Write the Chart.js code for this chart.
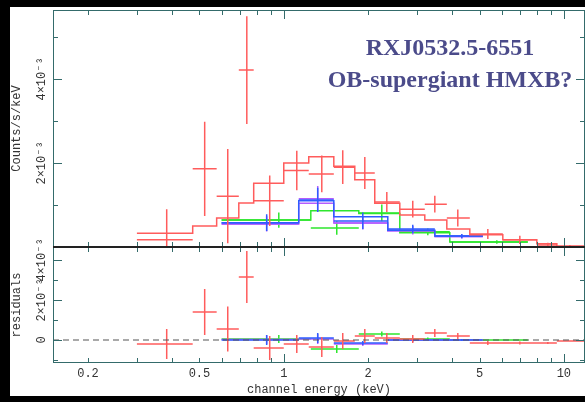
<!DOCTYPE html>
<html>
<head>
<meta charset="utf-8">
<script src="https://cdn.jsdelivr.net/npm/chart.js@4.4.0/dist/chart.umd.min.js"></script>
<style>
  html, body { margin: 0; padding: 0; background: #000; }
  #page { position: relative; width: 585px; height: 402px; overflow: hidden; background: #000; }
  #sheet { position: absolute; left: 10px; top: 7px; width: 575px; height: 389px; background: #fff; }
  canvas { position: absolute; left: 0; }
  #spec { top: 0; }
  #resid { top: 200px; }
  #label { position: absolute; left: 300px; top: 31px; width: 300px; text-align: center;
           font: bold 24px/32px "Liberation Serif", "Times New Roman", serif; color: #4b4b8a; }
</style>
</head>
<body>
<div id="page">
  <div id="sheet"></div>
  <canvas id="spec" width="585" height="260"></canvas>
  <canvas id="resid" width="585" height="202"></canvas>
  <div id="label">RXJ0532.5-6551<br>OB-supergiant HMXB?</div>
</div>
<script>
// energy axis (keV)
var xMin = 0.15, xMax = 11.9;
var xLabelTicks = [0.2, 0.5, 1, 2, 5, 10];
var xMajorTicks = [1, 10];
var xMinorTicks = [0.2, 0.3, 0.4, 0.5, 0.6, 0.7, 0.8, 0.9, 2, 3, 4, 5, 6, 7, 8, 9];

// counts/s/keV and residuals, both in units of 1e-3
var countMax = 5.64;
var countLabelTicks = [2, 4];
var countMinorTicks = [1, 3, 5];
var residMin = -1.15, residMax = 4.65;
var residLabelTicks = [0, 2, 4];
var residMinorTicks = [-1, 1, 3];

// red spectrum
var redEdges = [0.299, 0.473, 0.576, 0.691, 0.781, 1.0, 1.228, 1.509, 1.793, 2.113, 2.596, 3.188, 3.821, 4.616, 6.055, 8.009, 9.441, 11.9];
var redCenters = [0.382, 0.522, 0.631, 0.738, 0.891, 1.113, 1.367, 1.624, 1.947, 2.333, 2.888, 3.462, 4.182, 5.353, 6.964, 8.768, 10.51];
var redCounts = [0.17, 1.86, 1.21, 4.21, 1.10, 1.82, 1.74, 1.90, 1.76, 1.07, 0.90, 1.02, 0.69, 0.31, 0.17, 0.05, 0.02];
var redErrors = [0.73, 1.12, 1.12, 1.28, 0.60, 0.47, 0.44, 0.40, 0.38, 0.24, 0.20, 0.20, 0.20, 0.12, 0.10, 0.05, 0.03];
var redModel = [0.33, 0.50, 0.69, 1.05, 1.52, 2.00, 2.15, 1.92, 1.60, 1.04, 0.76, 0.64, 0.43, 0.29, 0.17, 0.08, 0.02];
var redResid = [-0.20, 1.40, 0.55, 3.15, -0.40, -0.20, -0.35, -0.05, 0.20, 0.10, 0.05, 0.35, 0.20, -0.15, -0.15, -0.15, -0.05];
var redResidErr = [0.75, 1.15, 1.12, 1.30, 0.60, 0.45, 0.50, 0.40, 0.35, 0.25, 0.20, 0.20, 0.15, 0.10, 0.08, 0.05, 0.03];

// blue spectrum
var blueEdges = [0.600, 1.131, 1.509, 2.352, 3.462, 5.136];
var blueCenters = [0.869, 1.322, 1.915, 2.888, 4.322];
var blueCounts = [0.58, 1.12, 0.62, 0.43, 0.26];
var blueErrors = [0.20, 0.29, 0.20, 0.10, 0.05];
var blueModel = [0.58, 1.10, 0.72, 0.40, 0.26];
var blueResid = [0.00, 0.10, -0.15, 0.00, 0.00];
var blueResidErr = [0.25, 0.25, 0.10, 0.08, 0.05];

// purple spectrum
var purpleEdges = [0.600, 1.131, 1.509, 2.352, 3.462, 5.136];
var purpleCenters = [0.869, 1.322, 1.915, 2.888, 4.322];
var purpleCounts = [0.55, 1.15, 0.57, 0.40, 0.25];
var purpleErrors = [0.18, 0.30, 0.15, 0.10, 0.05];
var purpleModel = [0.55, 1.04, 0.57, 0.38, 0.25];
var purpleResid = [0.02, 0.05, -0.20, 0.00, 0.00];
var purpleResidErr = [0.22, 0.25, 0.10, 0.08, 0.05];

// green spectrum
var greenEdges = [0.600, 1.249, 1.853, 2.596, 3.916, 7.436];
var greenCenters = [0.960, 1.546, 2.239, 3.268, 5.764];
var greenCounts = [0.64, 0.45, 0.81, 0.36, 0.12];
var greenErrors = [0.18, 0.16, 0.20, 0.08, 0.04];
var greenModel = [0.64, 0.86, 0.80, 0.34, 0.12];
var greenResid = [0.05, -0.45, 0.30, 0.05, 0.00];
var greenResidErr = [0.20, 0.20, 0.12, 0.08, 0.04];

var RED = '#ff5c5c', BLUE = '#2f5cff', PURPLE = '#b45cff', GREEN = '#2ee62e';
var FRAME = '#346b6b', TEXT = '#333333';
var MONO = '"Liberation Mono", "DejaVu Sans Mono", monospace';

// histogram of model values over the bins
function stepLine(edges, values) {
  var pts = [];
  for (var i = 0; i < values.length; i++) {
    pts.push({x: edges[i], y: values[i]});
    pts.push({x: edges[i + 1], y: values[i]});
  }
  return pts;
}

// one cross per bin: energy bar + error bar, broken by null points
function crosses(edges, centers, values, errors) {
  var pts = [];
  for (var i = 0; i < values.length; i++) {
    pts.push({x: edges[i], y: values[i]}, {x: edges[i + 1], y: values[i]}, {x: null, y: null});
    pts.push({x: centers[i], y: values[i] - errors[i]}, {x: centers[i], y: values[i] + errors[i]}, {x: null, y: null});
  }
  return pts;
}

function lineSet(data, color, extra) {
  var ds = {data: data, showLine: true, borderColor: color, borderWidth: 1.5,
            pointRadius: 0, pointHoverRadius: 0, spanGaps: false, tension: 0};
  for (var k in extra) ds[k] = extra[k];
  return ds;
}

// frame with inward ticks, like the old plotting packages
var panelFrame = {
  id: 'panelFrame',
  afterDatasetsDraw: function(chart, args, opts) {
    var ctx = chart.ctx, a = chart.chartArea;
    var xs = chart.scales.x, ys = chart.scales.y;
    function seg(x1, y1, x2, y2) { ctx.beginPath(); ctx.moveTo(x1, y1); ctx.lineTo(x2, y2); ctx.stroke(); }
    ctx.save();
    ctx.strokeStyle = FRAME;
    ctx.lineWidth = 1;
    ctx.strokeRect(a.left + 0.5, a.top + 0.5, a.right - a.left - 1, a.bottom - a.top - 1);
    function xt(v, len) {
      var p = Math.round(xs.getPixelForValue(v)) + 0.5;
      seg(p, a.bottom, p, a.bottom - len);
      seg(p, a.top, p, a.top + len);
    }
    function yt(v, len) {
      var p = Math.round(ys.getPixelForValue(v)) + 0.5;
      seg(a.left, p, a.left + len, p);
      seg(a.right, p, a.right - len, p);
    }
    xMinorTicks.forEach(function(v) { xt(v, 5); });
    xMajorTicks.forEach(function(v) { xt(v, 9); });
    opts.yMajor.forEach(function(v) { yt(v, 9); });
    opts.yMinor.forEach(function(v) { yt(v, 5); });
    ctx.strokeStyle = '#222';
    ctx.lineWidth = 2;
    var yd = opts.darkEdge === 'bottom' ? a.bottom : a.top;
    seg(a.left, yd, a.right, yd);
    ctx.restore();
  }
};

function yTickLabel(v) { return v === 0 ? '0' : v + '\u00d710\u207b\u00b3'; }

var specChart = new Chart(document.getElementById('spec'), {
  type: 'scatter',
  data: {
    datasets: [
      lineSet(stepLine(redEdges, redModel), RED),
      lineSet(crosses(redEdges, redCenters, redCounts, redErrors), RED),
      lineSet(stepLine(blueEdges, blueModel), BLUE),
      lineSet(crosses(blueEdges, blueCenters, blueCounts, blueErrors), BLUE),
      lineSet(stepLine(purpleEdges, purpleModel), PURPLE),
      lineSet(crosses(purpleEdges, purpleCenters, purpleCounts, purpleErrors), PURPLE),
      lineSet(stepLine(greenEdges, greenModel), GREEN),
      lineSet(crosses(greenEdges, greenCenters, greenCounts, greenErrors), GREEN)
    ]
  },
  options: {
    responsive: false,
    animation: false,
    layout: {padding: {left: 0, right: 0, top: 10, bottom: 13}},
    plugins: {
      legend: {display: false},
      tooltip: {enabled: false},
      panelFrame: {yMajor: countLabelTicks, yMinor: countMinorTicks, darkEdge: 'bottom'}
    },
    scales: {
      x: {type: 'logarithmic', min: xMin, max: xMax, display: false},
      y: {
        type: 'linear', min: 0, max: countMax, position: 'left',
        afterBuildTicks: function(s) { s.ticks = countLabelTicks.map(function(v) { return {value: v}; }); },
        afterFit: function(s) { s.width = 53; },
        grid: {display: false, drawTicks: false},
        border: {display: false},
        ticks: {minRotation: 90, maxRotation: 90, crossAlign: 'center', padding: -10,
                color: TEXT, font: {family: MONO, size: 12}, callback: yTickLabel},
        title: {display: true, text: 'Counts/s/keV', color: TEXT,
                font: {family: MONO, size: 12}, padding: {top: 10, bottom: 0}}
      }
    }
  },
  plugins: [panelFrame]
});

var residChart = new Chart(document.getElementById('resid'), {
  type: 'scatter',
  data: {
    datasets: [
      lineSet([{x: xMin, y: 0}, {x: xMax, y: 0}], '#555', {borderWidth: 1.2, borderDash: [6, 4]}),
      lineSet(crosses(redEdges, redCenters, redResid, redResidErr), RED),
      lineSet(crosses(blueEdges, blueCenters, blueResid, blueResidErr), BLUE),
      lineSet(crosses(purpleEdges, purpleCenters, purpleResid, purpleResidErr), PURPLE),
      lineSet(crosses(greenEdges, greenCenters, greenResid, greenResidErr), GREEN)
    ]
  },
  options: {
    responsive: false,
    animation: false,
    layout: {padding: {left: 0, right: 0, top: 47, bottom: 0}},
    plugins: {
      legend: {display: false},
      tooltip: {enabled: false},
      panelFrame: {yMajor: residLabelTicks, yMinor: residMinorTicks, darkEdge: 'top'}
    },
    scales: {
      x: {
        type: 'logarithmic', min: xMin, max: xMax, position: 'bottom',
        afterBuildTicks: function(s) { s.ticks = xLabelTicks.map(function(v) { return {value: v}; }); },
        afterFit: function(s) { s.height = 39; },
        grid: {display: false, drawTicks: false},
        border: {display: false},
        ticks: {autoSkip: false, maxRotation: 0, padding: 4, color: TEXT,
                font: {family: MONO, size: 12}, callback: function(v) { return String(v); }},
        title: {display: true, text: 'channel energy (keV)', color: TEXT,
                font: {family: MONO, size: 12}, padding: {top: 0, bottom: 5}}
      },
      y: {
        type: 'linear', min: residMin, max: residMax, position: 'left',
        afterBuildTicks: function(s) { s.ticks = residLabelTicks.map(function(v) { return {value: v}; }); },
        afterFit: function(s) { s.width = 53; },
        grid: {display: false, drawTicks: false},
        border: {display: false},
        ticks: {minRotation: 90, maxRotation: 90, crossAlign: 'center', padding: -10,
                color: TEXT, font: {family: MONO, size: 12}, callback: yTickLabel},
        title: {display: true, text: 'residuals', color: TEXT,
                font: {family: MONO, size: 12}, padding: {top: 10, bottom: 0}}
      }
    }
  },
  plugins: [panelFrame]
});
</script>
</body>
</html>
